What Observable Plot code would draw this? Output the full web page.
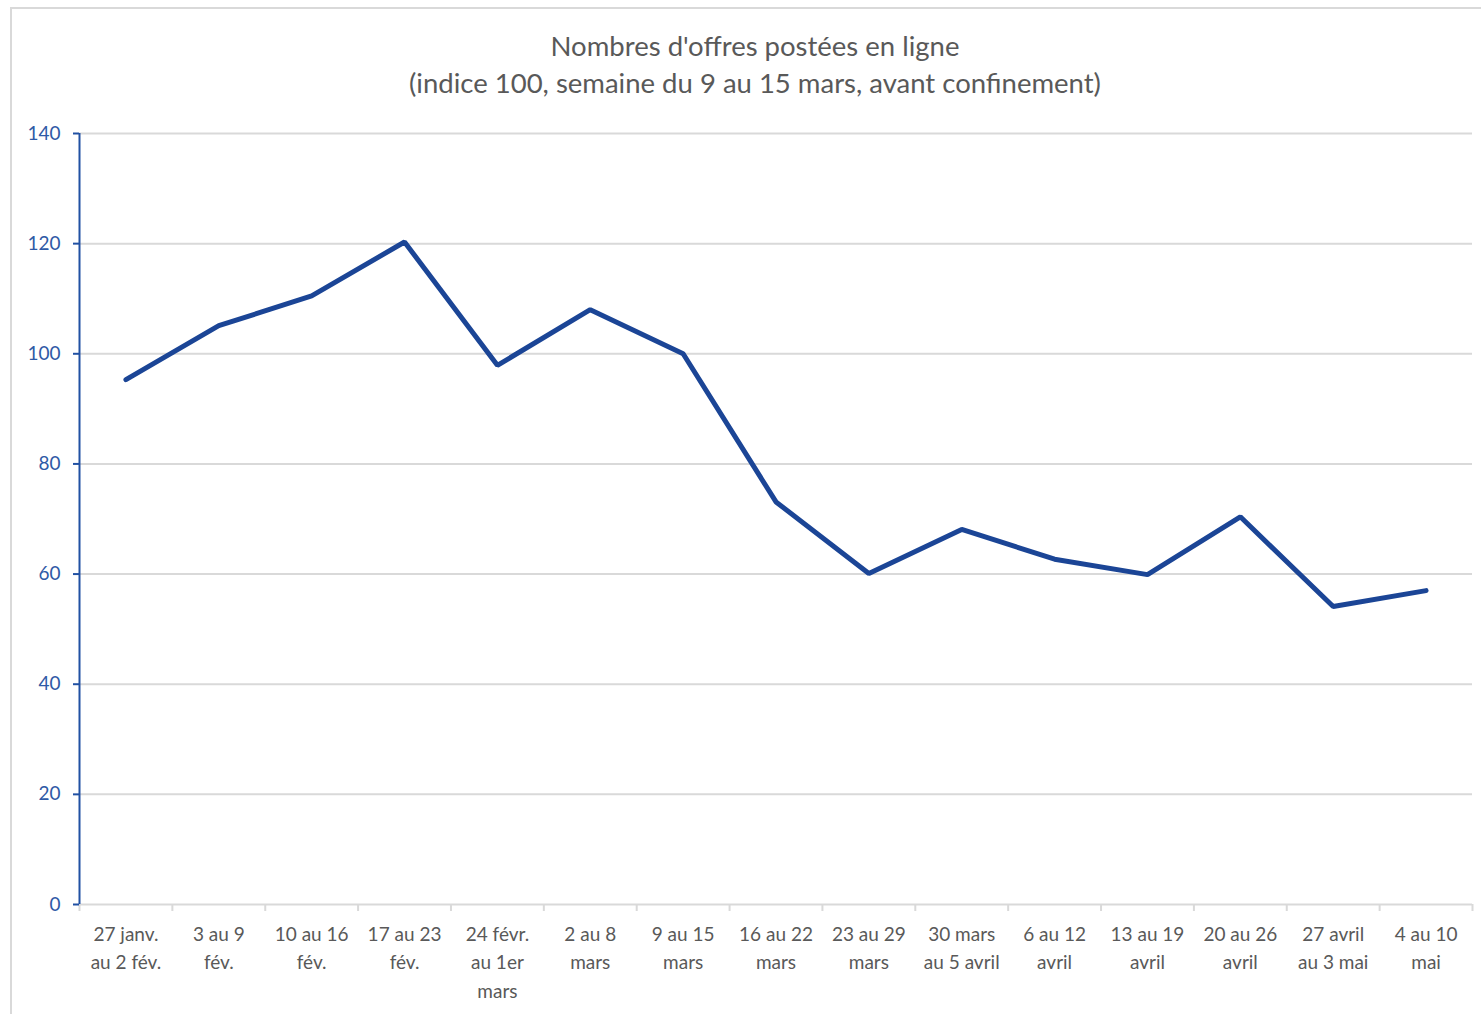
<!DOCTYPE html>
<html><head><meta charset="utf-8">
<script src="https://cdn.jsdelivr.net/npm/d3@7"></script>
<script src="https://cdn.jsdelivr.net/npm/@observablehq/plot@0.6"></script>
<style>
html,body{margin:0;padding:0;background:#fff;width:1481px;height:1014px;overflow:hidden;}
#frame{position:absolute;left:10px;top:7px;width:1500px;height:1100px;border:2px solid #d9d9d9;box-sizing:border-box;}
#title{position:absolute;left:0;top:27px;width:1510px;text-align:center;font-family:Lato,sans-serif;font-size:27.5px;line-height:37px;color:#595959;}
#chart{position:absolute;left:0;top:110px;}
</style></head>
<body>
<div id="frame"></div>
<div id="title">Nombres d'offres postées en ligne<br>(indice 100, semaine du 9 au 15 mars, avant confinement)</div>
<div id="chart"></div>
<script>
const weeks = [
  "27 janv.\nau 2 fév.", "3 au 9\nfév.", "10 au 16\nfév.", "17 au 23\nfév.",
  "24 févr.\nau 1er\nmars", "2 au 8\nmars", "9 au 15\nmars", "16 au 22\nmars",
  "23 au 29\nmars", "30 mars\nau 5 avril", "6 au 12\navril", "13 au 19\navril",
  "20 au 26\navril", "27 avril\nau 3 mai", "4 au 10\nmai"
];
const offres = [95.3, 105.1, 110.5, 120.3, 97.9, 108.0, 100.0, 73.1, 60.1, 68.1, 62.7, 59.9, 70.4, 54.1, 57.0];
const yTicks = [0, 20, 40, 60, 80, 100, 120, 140];

const idx = weeks.map((_, i) => i);
const bounds = d3.range(weeks.length + 1).map(i => i - 0.5);
const data = weeks.map((w, i) => ({i, w, v: offres[i]}));

const chart = Plot.plot({
  width: 1481,
  height: 904,
  marginLeft: 79,
  marginRight: 9,
  marginTop: 23,
  marginBottom: 110,
  style: {fontFamily: "Lato, sans-serif", background: "transparent"},
  x: {type: "linear", domain: [-0.5, weeks.length - 0.5]},
  y: {domain: [0, 140]},
  marks: [
    Plot.gridY(yTicks.filter(t => t > 0), {stroke: "#d9d9d9", strokeOpacity: 1, strokeWidth: 2}),
    Plot.ruleY([0], {stroke: "#d9d9d9", strokeWidth: 2}),
    Plot.axisX(bounds, {tickSize: 7, tickFormat: () => "", stroke: "#d9d9d9", strokeWidth: 2, label: null}),
    Plot.axisX(idx, {tickSize: 0, tickPadding: 16, tickFormat: i => weeks[i], fontSize: 19, lineHeight: 1.5, fill: "#595959", label: null}),
    Plot.ruleX([-0.5], {y1: 0, y2: 140, stroke: "#2151a3", strokeWidth: 2}),
    Plot.axisY(yTicks, {tickSize: 6, tickPadding: 13, stroke: "#2151a3", strokeWidth: 2, fill: "#2f5aa6", fontSize: 19, label: null}),
    Plot.line(data, {x: "i", y: "v", stroke: "#1b4596", strokeWidth: 5, strokeLinejoin: "miter"})
  ]
});
document.getElementById("chart").appendChild(chart);
</script>
</body></html>
